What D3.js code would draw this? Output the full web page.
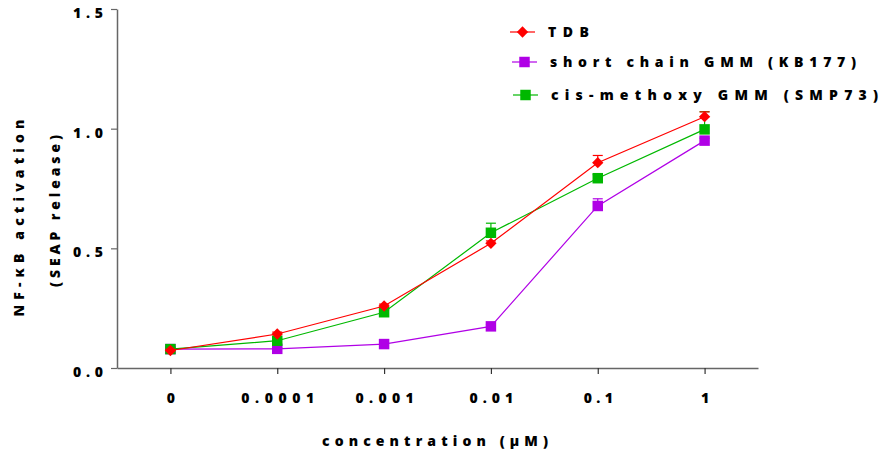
<!DOCTYPE html>
<html>
<head>
<meta charset="utf-8">
<script src="https://cdn.jsdelivr.net/npm/d3@7"></script>
<style>
  html, body { margin: 0; padding: 0; background: #fff; }
  svg { display: block; }
  text { font-family: "Open Sans", "Liberation Sans", Arial, sans-serif; font-weight: 800; fill: #000; }
</style>
</head>
<body>
<svg id="chart" width="886" height="459"></svg>
<script>
// Concentrations tested (µM) and mean NF-κB activation per compound
const concentrations = ["0", "0.0001", "0.001", "0.01", "0.1", "1"];
const tdbValues   = [0.073, 0.142, 0.259, 0.521, 0.858, 1.050];
const kb177Values = [0.079, 0.080, 0.100, 0.174, 0.677, 0.950];
const smp73Values = [0.079, 0.114, 0.233, 0.565, 0.793, 0.997];
// Upper error (SEM) for each point
const tdbErrors   = [0.005, 0.008, 0.008, 0.010, 0.030, 0.020];
const kb177Errors = [0.005, 0.005, 0.005, 0.008, 0.030, 0.010];
const smp73Errors = [0.008, 0.008, 0.010, 0.040, 0.015, 0.074];
const yTickValues = [0, 0.5, 1.0, 1.5];
const seriesNames = ["TDB", "short chain GMM (KB177)", "cis-methoxy GMM (SMP73)"];

const series = [
  { name: seriesNames[1], values: kb177Values, errors: kb177Errors, color: "#b000e6", shape: "square" },
  { name: seriesNames[2], values: smp73Values, errors: smp73Errors, color: "#00b800", shape: "square" },
  { name: seriesNames[0], values: tdbValues,   errors: tdbErrors,   color: "#ff0000", shape: "diamond" }
];

const svg = d3.select("#chart");
const axisColor = "#666";

const x = d3.scalePoint().domain(concentrations).range([117, 758]).padding(0.5);
const y = d3.scaleLinear().domain([0, 1.5]).range([368, 9]);

// X axis
const xAxis = svg.append("g")
  .attr("transform", "translate(0,368)")
  .call(d3.axisBottom(x).tickSize(6).tickSizeOuter(0));
xAxis.select(".domain").attr("stroke", axisColor).attr("stroke-width", 1.5);
xAxis.selectAll(".tick line").attr("stroke", "#333").attr("stroke-width", 1.2);
xAxis.selectAll(".tick text")
  .attr("fill", "#000").attr("font-size", 14).attr("font-family", null)
  .attr("dy", "0.35em").attr("y", 30)
  .each(function(d) {
    const n = d.length;
    d3.select(this).attr("textLength", n === 1 ? null : (n - 1) * 14.6)
      .attr("lengthAdjust", "spacing");
  });

// Y axis
const yAxis = svg.append("g")
  .attr("transform", "translate(117,0)")
  .call(d3.axisLeft(y).tickValues(yTickValues).tickFormat(d3.format(".1f"))
        .tickSize(6).tickSizeOuter(0).tickPadding(8));
yAxis.select(".domain").attr("stroke", axisColor).attr("stroke-width", 1.5);
yAxis.selectAll(".tick line").attr("stroke", axisColor).attr("stroke-width", 1.2);
yAxis.selectAll(".tick text")
  .attr("fill", "#000").attr("font-size", 14).attr("font-family", null)
  .attr("dy", "0.6em")
  .attr("textLength", 30).attr("lengthAdjust", "spacing");

// Axis titles
svg.append("text")
  .attr("x", 435).attr("y", 441).attr("dy", "0.35em")
  .attr("text-anchor", "middle").attr("font-size", 14)
  .attr("textLength", 226).attr("lengthAdjust", "spacing")
  .text("concentration (µM)");

svg.append("text")
  .attr("transform", "translate(19,218) rotate(-90)")
  .attr("dy", "0.35em").attr("text-anchor", "middle").attr("font-size", 14)
  .attr("textLength", 197).attr("lengthAdjust", "spacing")
  .text("NF-κB activation");

svg.append("text")
  .attr("transform", "translate(55,211) rotate(-90)")
  .attr("dy", "0.35em").attr("text-anchor", "middle").attr("font-size", 14)
  .attr("textLength", 152).attr("lengthAdjust", "spacing")
  .text("(SEAP release)");

// Marker drawing helper: squares, and squares turned 45° for diamonds
const squareSym = d3.symbol().type(d3.symbolSquare).size(110);
const diamondSym = d3.symbol().type(d3.symbolSquare).size(64);
function marker(sel, s, cx, cy) {
  const p = sel.append("path").attr("fill", s.color);
  if (s.shape === "diamond") {
    p.attr("d", diamondSym()).attr("transform", `translate(${cx},${cy}) rotate(45)`);
  } else {
    p.attr("d", squareSym()).attr("transform", `translate(${cx},${cy})`);
  }
  return p;
}

const line = d3.line().x((d, i) => x(concentrations[i])).y(d => y(d));

series.forEach(s => {
  const g = svg.append("g");
  // error bars (upper)
  s.values.forEach((v, i) => {
    const cx = x(concentrations[i]);
    const top = y(v + s.errors[i]);
    g.append("line").attr("x1", cx).attr("x2", cx).attr("y1", y(v)).attr("y2", top)
      .attr("stroke", s.color).attr("stroke-width", 1.2);
    g.append("line").attr("x1", cx - 5).attr("x2", cx + 5).attr("y1", top).attr("y2", top)
      .attr("stroke", s.color).attr("stroke-width", 1.2);
  });
  g.append("path").datum(s.values)
    .attr("d", line).attr("fill", "none")
    .attr("stroke", s.color).attr("stroke-width", 1.2);
  s.values.forEach((v, i) => marker(g, s, x(concentrations[i]), y(v)));
});

// Legend
const legendRows = [
  { s: series[2], y: 32, x0: 510, w: 41 },
  { s: series[0], y: 62, x0: 512, w: 306 },
  { s: series[1], y: 95, x0: 513, w: 327 }
];
legendRows.forEach(r => {
  const g = svg.append("g").attr("transform", `translate(${r.x0},${r.y})`);
  g.append("line").attr("x1", 0).attr("x2", 25).attr("y1", 0).attr("y2", 0)
    .attr("stroke", r.s.color).attr("stroke-width", 1.2);
  marker(g, r.s, 12.5, 0);
  g.append("text").attr("x", 38).attr("dy", "0.35em").attr("font-size", 14)
    .attr("textLength", r.w).attr("lengthAdjust", "spacing")
    .text(r.s.name);
});
</script>
</body>
</html>
